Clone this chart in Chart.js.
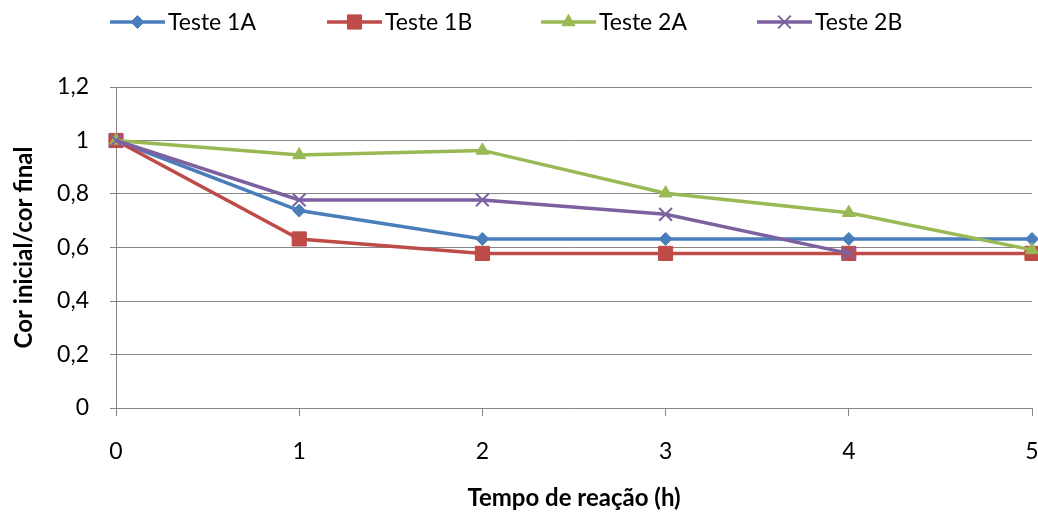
<!DOCTYPE html>
<html>
<head>
<meta charset="utf-8">
<script src="https://cdn.jsdelivr.net/npm/chart.js@4.4.1/dist/chart.umd.min.js"></script>
<style>
  html, body { margin: 0; padding: 0; background: #fff; }
  #wrap { width: 1038px; height: 515px; }
</style>
</head>
<body>
<div id="wrap"><canvas id="c" width="1038" height="515"></canvas></div>
<script>
// Reaction time (h)
const categories = ['0', '1', '2', '3', '4', '5'];
// Initial colour / final colour ratio per test
const teste1A = [1, 0.738, 0.632, 0.632, 0.632, 0.632];
const teste1B = [1, 0.632, 0.578, 0.578, 0.578, 0.578];
const teste2A = [1, 0.946, 0.963, 0.803, 0.730, 0.591];
const teste2B = [1, 0.778, 0.778, 0.724, 0.578, null];
const seriesNames = ['Teste 1A', 'Teste 1B', 'Teste 2A', 'Teste 2B'];
const yTickValues = [0, 0.2, 0.4, 0.6, 0.8, 1, 1.2];

const FONT = 'Lato, "Open Sans", sans-serif';
const GRID = '#868686';

const styles = [
  { color: '#4A7EBB', point: 'rectRot', radius: 6.5, pbw: 1 },
  { color: '#BE4B48', point: 'rect', radius: 10, pbw: 1 },
  { color: '#98B954', point: 'triangle', radius: 7.5, pbw: 1 },
  { color: '#7D60A0', point: 'crossRot', radius: 9, pbw: 2 }
];

const seriesData = [teste1A, teste1B, teste2A, teste2B];

const datasets = seriesData.map((d, i) => ({
  label: seriesNames[i],
  data: d,
  borderColor: styles[i].color,
  backgroundColor: styles[i].color,
  borderWidth: 3.5,
  pointStyle: styles[i].point,
  pointRadius: styles[i].radius,
  pointHoverRadius: styles[i].radius,
  pointBorderColor: styles[i].color,
  pointBackgroundColor: styles[i].color,
  pointBorderWidth: styles[i].pbw,
  tension: 0,
  spanGaps: false,
  clip: false,
  order: seriesData.length - i
}));

// Legend drawn across the top: line segment with marker, then the name
const topLegend = {
  id: 'topLegend',
  afterDraw(chart) {
    const ctx = chart.ctx;
    const starts = [110, 327, 541, 757];
    const y = 22;
    ctx.save();
    chart.data.datasets.forEach((ds, i) => {
      const x0 = starts[i];
      const x1 = x0 + 55;
      ctx.strokeStyle = ds.borderColor;
      ctx.lineWidth = 3.5;
      ctx.beginPath();
      ctx.moveTo(x0, y);
      ctx.lineTo(x1, y);
      ctx.stroke();
      ctx.fillStyle = ds.pointBackgroundColor;
      ctx.strokeStyle = ds.pointBorderColor;
      ctx.lineWidth = ds.pointBorderWidth;
      Chart.helpers.drawPoint(ctx, {
        pointStyle: ds.pointStyle,
        rotation: 0,
        radius: ds.pointRadius,
        borderWidth: ds.pointBorderWidth
      }, (x0 + x1) / 2, y);
      ctx.fillStyle = '#000';
      ctx.font = '23px ' + FONT;
      ctx.textBaseline = 'middle';
      ctx.textAlign = 'left';
      ctx.fillText(ds.label, x1 + 3, y + 1);
    });
    ctx.restore();
  }
};

new Chart(document.getElementById('c'), {
  type: 'line',
  data: { labels: categories, datasets },
  plugins: [topLegend],
  options: {
    responsive: false,
    animation: false,
    layout: { autoPadding: false, padding: { top: 87, right: 6, left: 0, bottom: 0 } },
    plugins: { legend: { display: false }, tooltip: { enabled: false } },
    scales: {
      x: {
        type: 'category',
        offset: false,
        grid: { display: true, drawOnChartArea: false, drawTicks: true, tickLength: 8, color: GRID },
        border: { display: true, color: GRID, width: 1 },
        ticks: { color: '#000', font: { family: FONT, size: 23 }, padding: 22, maxRotation: 0 },
        title: {
          display: true,
          text: 'Tempo de reação (h)',
          color: '#000',
          font: { family: FONT, size: 24, weight: 'bold' },
          padding: { top: 10, bottom: 2 }
        },
        afterFit(scale) {
          scale.height = 107;
          scale.paddingLeft = 0;
          scale.paddingRight = 0;
        }
      },
      y: {
        min: 0,
        max: 1.2,
        afterBuildTicks(scale) { scale.ticks = yTickValues.map(v => ({ value: v })); },
        grid: { color: GRID, lineWidth: 1, drawTicks: true, tickLength: 6 },
        border: { display: true, color: GRID, width: 1 },
        ticks: {
          color: '#000',
          font: { family: FONT, size: 23 },
          padding: 21,
          callback: v => String(Math.round(v * 10) / 10).replace('.', ',')
        },
        title: {
          display: true,
          text: 'Cor inicial/cor final',
          color: '#000',
          font: { family: FONT, size: 24, weight: 'bold' },
          padding: { top: 10, bottom: 10 }
        },
        afterFit(scale) {
          scale.width = 116;
          scale.paddingTop = 0;
          scale.paddingBottom = 0;
        }
      }
    }
  }
});
</script>
</body>
</html>
